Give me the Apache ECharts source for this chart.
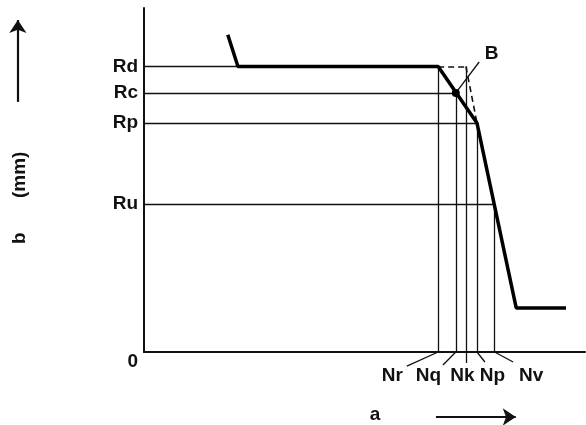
<!DOCTYPE html>
<html>
<head>
<meta charset="utf-8">
<title>b - a</title>
<script src="https://cdn.jsdelivr.net/npm/echarts@6/dist/echarts.min.js"></script>
<style>
html, body { margin: 0; padding: 0; background: #fff; }
#main { width: 586px; height: 425px; }
</style>
</head>
<body>
<div id="main"></div>
<script>
// levels on the b axis
var rNames = ['Rd', 'Rc', 'Rp', 'Ru'];
var rValues = [83, 75.3, 66.6, 43];
// levels on the a axis
var nNames = ['Nr', 'Nq', 'Nk', 'Np', 'Nv'];
var nValues = [66.7, 70.7, 73.0, 75.5, 79.5];
// which R level each vertical guide reaches, which N each horizontal guide reaches
var nTop = [0, 1, 0, 2, 3];
var rEnd = [0, 1, 3, 4];
// the thick curve
var curveX = [19.0, 21.3, 66.7, 75.5, 84.4, 95.7];
var curveY = [92.2, 83, 83, 66.6, 12.8, 12.8];
var pointB = [70.7, 75.3];

// annotation spots (data units, outside the plot)
var nLabelX = [56.3, 64.5, 72.2, 79.0, 87.8];
var nLabelY = -6.9;
var nLeaderEnd = [[59.6, -4.1], [67.8, -3.8], [73.0, -3.2], [77.3, -2.9], [83.7, -2.9]];

var font = '"Liberation Sans", Arial, sans-serif';
var ink = '#111';

var myChart = echarts.init(document.getElementById('main'));

var guides = [];
rValues.forEach(function (r, i) {
    guides.push({ coords: [[0, r], [nValues[rEnd[i]], r]] });
});
nValues.forEach(function (n, i) {
    guides.push({ coords: [[n, 0], [n, rValues[nTop[i]]]] });
});

var dashed = [
    { coords: [[nValues[0], rValues[0]], [nValues[2], rValues[0]]] },
    { coords: [[nValues[2], rValues[0]], [nValues[3], rValues[2]]] }
];

var leaders = nValues.map(function (n, i) {
    return { coords: [[n, 0], nLeaderEnd[i]] };
});

var curve = curveX.map(function (x, i) { return [x, curveY[i]]; });

var textStyle = { color: ink, opacity: 1, fontFamily: font, fontSize: 19, fontWeight: 'bold' };

function textPoint(x, y, text, rotate) {
    return {
        value: [x, y],
        label: Object.assign({ show: true, position: 'inside', formatter: text, rotate: rotate || 0 }, textStyle)
    };
}

var texts = nNames.map(function (name, i) {
    return textPoint(nLabelX[i], nLabelY, name);
});
texts.push(textPoint(78.8, 86.6, 'B'));
texts.push(textPoint(52.4, -18.3, 'a'));
texts.push(textPoint(-28.1, 33.1, 'b', 90));
texts.push(textPoint(-28.1, 51.5, '(mm)', 90));

myChart.setOption({
    animation: false,
    grid: { left: 144, top: 8, right: 1, bottom: 73 },
    xAxis: {
        type: 'value', min: 0, max: 100,
        axisLine: { lineStyle: { color: ink, width: 2 } },
        axisTick: { show: false },
        axisLabel: { show: false },
        splitLine: { show: false }
    },
    yAxis: {
        type: 'value', min: 0, max: 100,
        axisLine: { show: true, lineStyle: { color: ink, width: 2 } },
        axisTick: { show: false },
        splitLine: { show: false },
        axisLabel: {
            customValues: [0].concat(rValues),
            margin: 6,
            color: ink, fontFamily: font, fontSize: 19, fontWeight: 'bold',
            formatter: function (v) {
                var i = rValues.indexOf(v);
                return i >= 0 ? rNames[i] : '{z|0}';
            },
            rich: { z: { color: ink, fontFamily: font, fontSize: 19, fontWeight: 'bold', padding: [20, 0, 0, 0] } }
        }
    },
    series: [
        {
            type: 'lines', coordinateSystem: 'cartesian2d', clip: false,
            lineStyle: { color: ink, width: 1.3, opacity: 1 },
            data: guides.concat(leaders).concat([{ coords: [pointB, [76.0, 84.3]] }])
        },
        {
            type: 'lines', coordinateSystem: 'cartesian2d',
            lineStyle: { color: ink, width: 1.6, type: [6, 4], opacity: 1 },
            data: dashed
        },
        {
            type: 'line', data: curve, showSymbol: false, symbol: 'none',
            lineStyle: { color: '#000', width: 3.5 }
        },
        {
            type: 'scatter', data: [pointB], symbolSize: 8,
            itemStyle: { color: '#000', opacity: 1 }
        },
        {
            type: 'lines', coordinateSystem: 'cartesian2d', clip: false,
            symbol: ['none', 'arrow'], symbolSize: 13,
            lineStyle: { color: ink, width: 2.2, opacity: 1 },
            data: [
                { coords: [[66.2, -18.9], [84.3, -18.9]] },
                { coords: [[-28.6, 72.7], [-28.6, 96.5]] }
            ]
        },
        {
            type: 'scatter', clip: false, symbolSize: 1,
            itemStyle: { color: 'rgba(0,0,0,0)', opacity: 1 },
            data: texts
        }
    ]
});
</script>
</body>
</html>
